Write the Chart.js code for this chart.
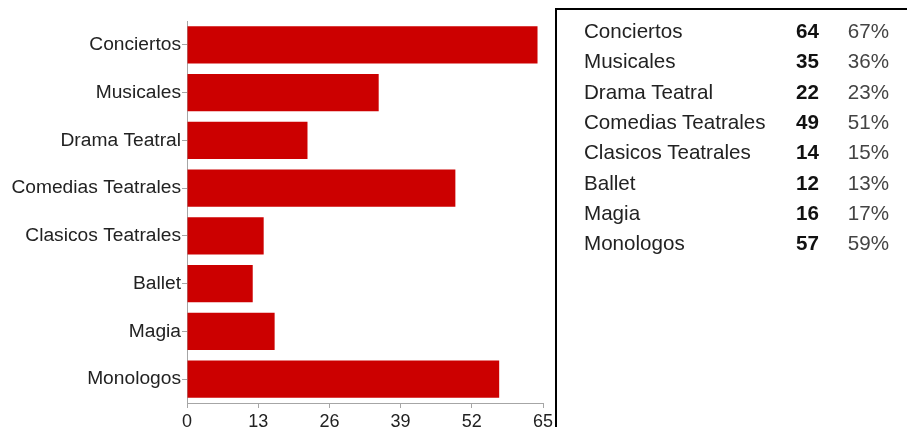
<!DOCTYPE html>
<html>
<head>
<meta charset="utf-8">
<script src="https://cdn.jsdelivr.net/npm/chart.js@4"></script>
<style>
    body { margin: 0; background: #fff; font-family: "Liberation Sans", Arial, sans-serif; }
    #grafico-wrap { position: absolute; left: 0; top: 0; width: 560px; height: 427px; }
    #tabela {
        position: absolute; left: 555px; top: 8px; width: 400px; height: 460px;
        border: 2px solid #000; box-sizing: border-box; padding-top: 6px;
    }
    .linha { display: grid; grid-template-columns: 27px 200px 35px 70px; height: 30.3px; align-items: center; font-size: 20.6px; }
    .nome { color: #222; }
    .num { text-align: right; font-weight: bold; color: #111; }
    .pct { text-align: right; color: #444; }
</style>
</head>
<body>
<div id="grafico-wrap"><canvas id="grafico"></canvas></div>
<div id="tabela"></div>

<script>
const categorias = ['Conciertos', 'Musicales', 'Drama Teatral', 'Comedias Teatrales', 'Clasicos Teatrales', 'Ballet', 'Magia', 'Monologos'];
const respuestas = [64, 35, 22, 49, 14, 12, 16, 57];
const porcentajes = [67, 36, 23, 51, 15, 13, 17, 59];
const ticksX = [0, 13, 26, 39, 52, 65];

// tabla de resumen a la derecha
const tabela = document.getElementById('tabela');
categorias.forEach((nome, i) => {
    const linha = document.createElement('div');
    linha.className = 'linha';
    linha.innerHTML = `<span></span><span class="nome">${nome}</span><span class="num">${respuestas[i]}</span><span class="pct">${porcentajes[i]}%</span>`;
    tabela.appendChild(linha);
});

const corEixo = '#a6a6a6';
const fonte = "'Liberation Sans', Arial, sans-serif";

new Chart(document.getElementById('grafico'), {
    type: 'bar',
    data: {
        labels: categorias,
        datasets: [{
            data: respuestas,
            backgroundColor: '#cc0000',
            borderWidth: 0,
            categoryPercentage: 0.78,
            barPercentage: 1
        }]
    },
    options: {
        indexAxis: 'y',
        responsive: true,
        maintainAspectRatio: false,
        animation: false,
        layout: { padding: { top: 21, right: 17, left: 0, bottom: 0 } },
        plugins: { legend: { display: false }, tooltip: { enabled: false } },
        scales: {
            x: {
                min: 0,
                max: 65,
                afterBuildTicks: (eixo) => { eixo.ticks = ticksX.map(v => ({ value: v })); },
                afterFit: (eixo) => { eixo.height = 24; },
                border: { display: true, color: corEixo, width: 1 },
                grid: { drawOnChartArea: false, drawTicks: true, tickLength: 5, color: corEixo },
                ticks: { color: '#222', padding: 3, font: { family: fonte, size: 18 }, maxRotation: 0 }
            },
            y: {
                afterFit: (eixo) => { eixo.width = 187; },
                border: { display: true, color: corEixo, width: 1 },
                grid: { offset: false, drawOnChartArea: false, drawTicks: true, tickLength: 5, color: corEixo },
                ticks: { color: '#222', padding: 1, font: { family: fonte, size: 19.2 } }
            }
        }
    }
});
</script>
</body>
</html>
